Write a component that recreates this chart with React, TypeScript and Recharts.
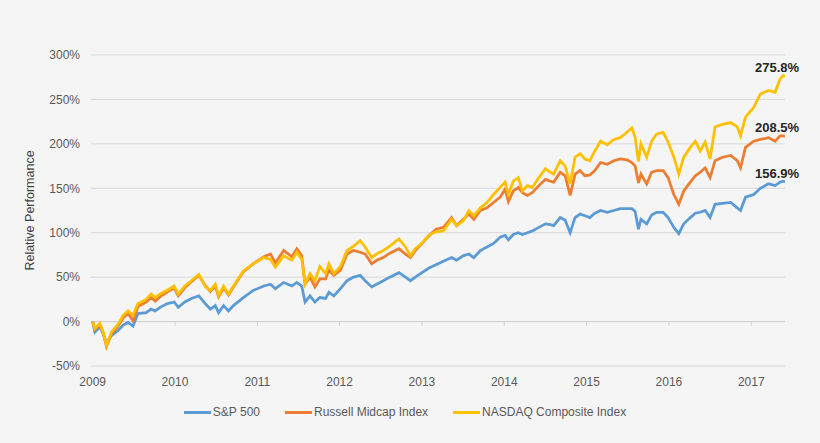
import React from 'react';
import { LineChart, Line, XAxis, YAxis, CartesianGrid, Legend, ReferenceLine } from 'recharts';

const dates = [
  2009.0, 2009.027, 2009.087, 2009.128, 2009.168, 2009.228, 2009.31, 2009.37, 2009.43, 2009.49,
  2009.55, 2009.65, 2009.71, 2009.76, 2009.82, 2009.9, 2009.99, 2010.04, 2010.12, 2010.2,
  2010.29, 2010.37, 2010.43, 2010.49, 2010.53, 2010.59, 2010.65, 2010.71, 2010.83, 2010.95,
  2011.08, 2011.16, 2011.22, 2011.32, 2011.42, 2011.48, 2011.54, 2011.58, 2011.64, 2011.7,
  2011.76, 2011.83, 2011.87, 2011.93,
  2012.01, 2012.09, 2012.17, 2012.25, 2012.31, 2012.39, 2012.45, 2012.53, 2012.61, 2012.72,
  2012.8, 2012.86, 2012.92, 2013.0, 2013.08, 2013.17, 2013.26, 2013.36, 2013.42, 2013.5,
  2013.57, 2013.63, 2013.71, 2013.79, 2013.87, 2013.95, 2014.01, 2014.05, 2014.11, 2014.17,
  2014.22, 2014.28, 2014.34, 2014.42, 2014.5, 2014.56, 2014.6, 2014.68, 2014.74, 2014.8,
  2014.86, 2014.92, 2014.98, 2015.04, 2015.1, 2015.17, 2015.25, 2015.33, 2015.41, 2015.49,
  2015.55, 2015.59, 2015.63, 2015.66, 2015.73, 2015.79, 2015.85, 2015.93, 2015.99, 2016.06,
  2016.12, 2016.18, 2016.26, 2016.32, 2016.38, 2016.44, 2016.5, 2016.56, 2016.65, 2016.75,
  2016.83, 2016.87, 2016.93, 2017.03, 2017.11, 2017.21, 2017.29, 2017.35, 2017.39, 2017.41,
];

const sp500 = [
  0, -12, -6, -14, -24, -16, -10, -4, -1, -5,
  9, 10, 14, 12, 16, 20, 22, 16, 22, 26,
  29, 20, 14, 18, 10, 18, 12, 18, 27, 35,
  40, 42, 37, 44, 40, 44, 40, 22, 29, 22,
  27, 26, 33, 29,
  37, 46, 50, 52, 46, 39, 42, 46, 50, 55,
  50, 46, 50, 55, 60, 64, 68, 72, 69, 74,
  76, 72, 80, 84, 88, 95, 97, 92, 98, 100,
  98, 100, 102, 106, 110, 109, 108, 117, 114, 100,
  117, 121, 119, 117, 122, 125, 123, 125, 127, 127,
  127, 124, 104, 115, 110, 120, 123, 123, 117, 106,
  99, 110, 117, 122, 123, 125, 117, 132, 133, 134,
  128, 125, 140, 143, 150, 155, 153, 157, 158, 156.9,
];

const russell = [
  0, -9, -3, -13, -28, -14, -5, 4, 9, 1,
  17, 22, 27, 23, 28, 33, 38, 29, 38, 45,
  52, 40, 34, 40, 28, 38, 30, 39, 56, 65,
  73, 76, 66, 80, 73, 82, 74, 42, 50, 39,
  48, 48, 58, 52,
  58, 76, 80, 78, 76, 65, 69, 72, 77, 82,
  76, 72, 80, 88, 96, 104, 106, 117, 108, 115,
  121, 115, 125, 128, 134, 140, 149, 135, 147, 151,
  145, 142, 145, 153, 160, 158, 157, 168, 164, 142,
  166, 170, 164, 165, 170, 179, 177, 181, 183, 182,
  179, 175, 156, 166, 155, 168, 170, 170, 162, 143,
  132, 147, 157, 164, 168, 173, 162, 181, 185, 187,
  181, 173, 196, 203, 205, 207, 203, 209, 209, 208.5,
];

const nasdaq = [
  0, -8, -2, -12, -27, -12, -3, 7, 12, 7,
  20, 25, 31, 27, 31, 35, 40, 31, 40, 46,
  53, 39, 35, 42, 29, 40, 31, 40, 57, 65,
  72, 70, 61, 74, 69, 78, 70, 42, 54, 46,
  62, 54, 65, 54,
  62, 80, 85, 91, 84, 72, 76, 80, 85, 93,
  84, 74, 82, 88, 97, 101, 102, 115, 108, 113,
  125, 119, 128, 134, 143, 151, 157, 143, 158, 162,
  147, 153, 151, 162, 172, 168, 166, 181, 175, 155,
  185, 189, 183, 181, 192, 203, 199, 205, 207, 213,
  218, 207, 180, 200, 185, 203, 211, 213, 202, 185,
  166, 185, 196, 203, 192, 202, 183, 219, 222, 224,
  219, 209, 230, 241, 256, 260, 258, 273, 277, 275.8,
];

const yearTicks = [2009, 2010, 2011, 2012, 2013, 2014, 2015, 2016, 2017];
const pctTicks = [-50, 0, 50, 100, 150, 200, 250, 300];
const seriesNames = ['S&P 500', 'Russell Midcap Index', 'NASDAQ Composite Index'];
const seriesColors = ['#5b9bd5', '#ed7d31', '#ffc000'];

const data = dates.map((t, i) => ({ t, sp: sp500[i], rm: russell[i], nq: nasdaq[i] }));
const lastIndex = dates.length - 1;

const FONT = '"Liberation Sans", Arial, sans-serif';

const endLabel = (props: any) => {
  const { x, y, index, value } = props;
  if (index !== lastIndex) return null;
  return (
    <text
      x={x - 8}
      y={y - 9}
      textAnchor="middle"
      dominantBaseline="central"
      fontFamily={FONT}
      fontSize={13}
      fontWeight="bold"
      fill="#262626"
    >
      {`${Number(value).toFixed(1)}%`}
    </text>
  );
};

const renderLegend = (props: any) => {
  const payload = [...(props.payload || [])].sort(
    (a: any, b: any) => seriesNames.indexOf(a.value) - seriesNames.indexOf(b.value)
  );
  return (
    <div
      style={{
        display: 'flex',
        justifyContent: 'center',
        alignItems: 'center',
        gap: 25,
        fontFamily: FONT,
        fontSize: 12,
        color: '#595959',
        lineHeight: '16px',
        paddingRight: 10,
      }}
    >
      {payload.map((p: any) => (
        <div key={p.value} style={{ display: 'flex', alignItems: 'center' }}>
          <span style={{ display: 'inline-block', width: 27, height: 3, background: p.color, marginRight: 2 }} />
          <span>{p.value}</span>
        </div>
      ))}
    </div>
  );
};

const yLabel = (props: any) => {
  const { viewBox } = props;
  const cx = 30;
  const cy = viewBox.y + viewBox.height / 2;
  return (
    <text
      x={cx}
      y={cy}
      transform={`rotate(-90, ${cx}, ${cy})`}
      textAnchor="middle"
      dominantBaseline="central"
      fontFamily={FONT}
      fontSize={12.5}
      fill="#404040"
    >
      Relative Performance
    </text>
  );
};

export default function App() {
  return (
    <div style={{ position: 'absolute', left: 0, top: 0, width: 820, height: 443, background: '#f5f5f5' }}>
      <LineChart width={820} height={443} data={data} margin={{ top: 55, right: 35, bottom: 47, left: 0 }}>
        <CartesianGrid horizontal vertical={false} stroke="#d9d9d9" strokeWidth={1} />
        <XAxis
          dataKey="t"
          type="number"
          domain={[2008.98, 2017.41]}
          ticks={yearTicks}
          allowDataOverflow
          height={30}
          axisLine={false}
          tickLine={false}
          tickMargin={5}
          tick={{ fontFamily: FONT, fontSize: 12, fill: '#595959' }}
          tickFormatter={(v: number) => String(v)}
        />
        <YAxis
          type="number"
          domain={[-50, 300]}
          ticks={pctTicks}
          width={91}
          axisLine={false}
          tickLine={false}
          tickMargin={5}
          tick={{ fontFamily: FONT, fontSize: 12, fill: '#595959' }}
          tickFormatter={(v: number) => `${v}%`}
          label={yLabel}
        />
        <ReferenceLine y={0} stroke="#d0d0d0" strokeWidth={1} />
        {yearTicks.slice(1).map((yr) => (
          <ReferenceLine
            key={yr}
            segment={[{ x: yr, y: 0 }, { x: yr, y: -5 }]}
            stroke="#d0d0d0"
            strokeWidth={1}
          />
        ))}
        <Legend
          layout="horizontal"
          verticalAlign="middle"
          align="center"
          wrapperStyle={{ top: 404, left: 0, width: 820 }}
          content={renderLegend}
        />
        <Line
          type="linear"
          dataKey="sp"
          name={seriesNames[0]}
          stroke={seriesColors[0]}
          strokeWidth={2.75}
          dot={false}
          isAnimationActive={false}
          label={endLabel}
        />
        <Line
          type="linear"
          dataKey="rm"
          name={seriesNames[1]}
          stroke={seriesColors[1]}
          strokeWidth={2.75}
          dot={false}
          isAnimationActive={false}
          label={endLabel}
        />
        <Line
          type="linear"
          dataKey="nq"
          name={seriesNames[2]}
          stroke={seriesColors[2]}
          strokeWidth={2.75}
          dot={false}
          isAnimationActive={false}
          label={endLabel}
        />
      </LineChart>
    </div>
  );
}
